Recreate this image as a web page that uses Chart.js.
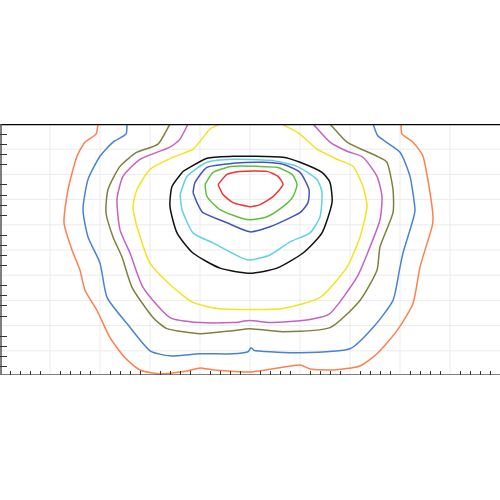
<!DOCTYPE html>
<html>
<head>
<meta charset="utf-8">
<script src="https://cdn.jsdelivr.net/npm/chart.js@4/dist/chart.umd.min.js"></script>
<style>
  html, body { margin: 0; padding: 0; background: #fff; }
  #wrap { position: absolute; left: 0; top: 124px; width: 500px; height: 251px; }
</style>
</head>
<body>
<div id="wrap"><canvas id="chart"></canvas></div>
<script>
// contour levels, outermost first; each is a list of [x, y] points
const orange = [[98,125],[96,135],[85,143],[77,157],[68,190],[64,223],[72,250],[80,270],[85,290],[97,310],[110,337],[125,357],[140,369],[160,373],[187,370],[200,367],[213,369],[250,371],[300,364],[310,368],[333,369],[360,365],[377,353],[397,330],[413,303],[420,267],[432,227],[433,217],[430,193],[423,157],[413,143],[402,135],[401,125]];
const blue = [[127,125],[126,135],[113,143],[100,157],[88,180],[83,210],[88,237],[100,263],[107,297],[127,323],[150,350],[170,355],[200,353],[233,353],[248,351],[251,347],[255,350],[300,352],[350,348],[373,327],[393,300],[400,267],[403,253],[413,220],[415,210],[410,177],[400,153],[378,137],[373,125]];
const olive = [[170,125],[158,145],[137,153],[120,167],[108,190],[106,213],[113,237],[122,257],[132,287],[153,317],[167,328],[200,333],[233,330],[250,328],[283,331],[330,327],[360,300],[377,270],[380,247],[393,213],[393,190],[387,163],[377,157],[347,143],[330,125]];
const magenta = [[188,125],[180,140],[170,148],[140,160],[123,177],[117,200],[120,230],[130,253],[143,287],[170,317],[200,322],[233,322],[250,320],[270,322],[310,319],[330,313],[357,277],[370,247],[380,220],[382,197],[377,177],[363,158],[347,152],[330,143],[313,125]];
const yellow = [[220,125],[210,130],[193,150],[173,158],[150,170],[137,190],[133,207],[137,227],[150,263],[173,287],[193,302],[217,308],[250,309],[283,308],[320,297],[347,267],[360,237],[367,207],[363,187],[353,167],[337,160],[317,150],[300,135],[282,125]];
const black = [[183,172],[172,187],[170,207],[177,233],[193,253],[220,268],[250,273],[277,268],[303,253],[322,233],[332,203],[330,183],[322,173],[300,163],[283,158],[250,157],[233,157],[207,159],[183,172]];
const cyan = [[180,195],[182,210],[193,233],[213,243],[240,257],[250,260],[270,255],[290,242],[310,233],[320,217],[322,193],[317,180],[297,167],[270,161],[233,160],[207,163],[187,177],[180,195]];
const navy = [[193,193],[197,203],[203,213],[227,223],[250,232],[270,227],[300,213],[308,203],[309,190],[300,173],[283,165],[263,163],[233,164],[207,168],[195,183],[193,193]];
const green = [[205,185],[207,197],[220,210],[240,218],[250,220],[267,217],[283,207],[293,197],[297,185],[292,175],[277,168],[257,167],[233,167],[213,173],[205,185]];
const red = [[218,185],[223,195],[233,203],[250,207],[260,205],[273,197],[283,185],[278,177],[267,172],[240,172],[227,175],[218,185]];

const levels = [orange, blue, olive, magenta, yellow, black, cyan, navy, green, red];
const colors = ["#ff7f4f", "#4a82d2", "#7f8040", "#c462c4", "#f2e420", "#111111", "#62d0e2", "#4456b4", "#5cc03c", "#f03434"];

const frame = {
  id: "frame",
  beforeDatasetsDraw(chart) {
    const {ctx, chartArea: a, scales: {x, y}} = chart;
    ctx.save();
    ctx.strokeStyle = "#ececec";
    ctx.lineWidth = 1;
    for (let v = 50; v < 500; v += 50) {
      ctx.beginPath(); ctx.moveTo(x.getPixelForValue(v), a.top); ctx.lineTo(x.getPixelForValue(v), a.bottom); ctx.stroke();
    }
    for (let v = 150; v < 375; v += 25) {
      ctx.beginPath(); ctx.moveTo(a.left, y.getPixelForValue(v)); ctx.lineTo(a.right, y.getPixelForValue(v)); ctx.stroke();
    }
    ctx.restore();
  },
  afterDatasetsDraw(chart) {
    const {ctx, chartArea: a, scales: {x, y}} = chart;
    ctx.save();
    ctx.strokeStyle = "#000";
    ctx.lineWidth = 1.5;
    ctx.beginPath(); ctx.moveTo(a.left, a.top + 0.5); ctx.lineTo(a.right, a.top + 0.5); ctx.stroke();
    ctx.strokeStyle = "#555";
    ctx.beginPath(); ctx.moveTo(a.left + 1, a.top); ctx.lineTo(a.left + 1, a.bottom); ctx.lineTo(a.right, a.bottom); ctx.stroke();
    ctx.lineWidth = 1;
    ctx.strokeStyle = "#333";
    for (let v = 10; v < 500; v += 10) {
      if (v % 50 === 0) continue;
      const px = Math.round(x.getPixelForValue(v)) + 0.5;
      ctx.beginPath(); ctx.moveTo(px, a.bottom); ctx.lineTo(px, a.bottom - 4); ctx.stroke();
    }
    for (let v = 135; v < 375; v += 10) {
      if ((v - 125) % 50 === 0) continue;
      const py = Math.round(y.getPixelForValue(v)) + 0.5;
      ctx.beginPath(); ctx.moveTo(a.left, py); ctx.lineTo(a.left + 7, py); ctx.stroke();
    }
    ctx.restore();
  },
};

new Chart(document.getElementById("chart"), {
  type: "scatter",
  data: {
    datasets: levels.map((pts, i) => ({
      data: pts.map(p => ({x: p[0], y: p[1]})),
      showLine: true,
      borderColor: colors[i],
      borderWidth: 1.5,
      pointRadius: 0,
      tension: 0.2,
    })),
  },
  options: {
    responsive: true,
    maintainAspectRatio: false,
    animation: false,
    layout: {padding: 0},
    plugins: {legend: {display: false}, tooltip: {enabled: false}},
    scales: {
      x: {type: "linear", min: 0, max: 500, display: false},
      y: {type: "linear", min: 125, max: 374, reverse: true, display: false},
    },
  },
  plugins: [frame],
});
</script>
</body>
</html>
